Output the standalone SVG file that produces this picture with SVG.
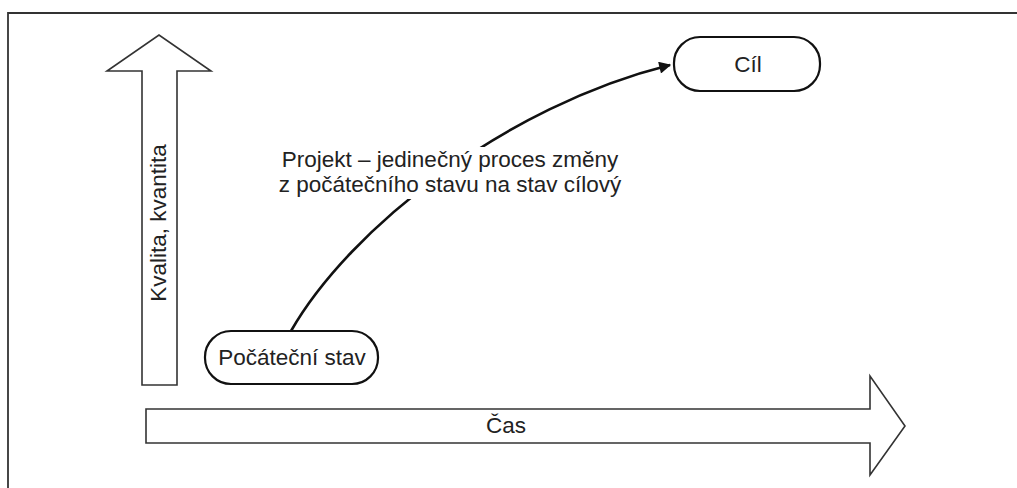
<svg xmlns="http://www.w3.org/2000/svg" width="1017" height="488" viewBox="0 0 1017 488">
<style>
.frame{fill:none;stroke:#333;stroke-width:1.8}
.bigarrow{fill:#fff;stroke:#333;stroke-width:1.6;stroke-linejoin:miter}
.node{fill:#fff;stroke:#111;stroke-width:2.2}
.t{font-family:"Liberation Sans",Arial,sans-serif;font-size:22.5px;fill:#222;text-anchor:middle}
.conn{fill:none;stroke:#111;stroke-width:2.6}
</style>
<defs>
<marker id="ah" viewBox="0 0 10 10" refX="9" refY="5" markerWidth="6" markerHeight="4.6" orient="auto" markerUnits="strokeWidth">
<path d="M0,0 L10,5 L0,10 z" fill="#111"/>
</marker>
</defs>
<rect width="1017" height="488" fill="#fff"/>
<g id="frame">
<path class="frame" d="M8,488 L8,13 L1017,13"/>
</g>
<g id="axis-y">
<polygon class="bigarrow" points="142,385 142,71 107,71 159,35 211,71 177,71 177,385"/>
<text class="t" transform="translate(166,223) rotate(-90)">Kvalita, kvantita</text>
</g>
<g id="axis-x">
<polygon class="bigarrow" points="146,409 870,409 870,376 905,426 870,475 870,443 146,443"/>
<text class="t" x="506" y="433">Čas</text>
</g>
<g id="connectors">
<path class="conn" d="M291,331 C350,228 505,106 670,65" marker-end="url(#ah)"/>
</g>
<g id="label">
<rect x="278" y="147" width="344" height="52" fill="#fff"/>
<text class="t" x="450" y="167">Projekt – jedinečný proces změny</text>
<text class="t" x="450" y="192">z počátečního stavu na stav cílový</text>
</g>
<g id="start">
<rect class="node" x="205" y="331" width="173" height="53" rx="26" ry="26"/>
<text class="t" x="292" y="365">Počáteční stav</text>
</g>
<g id="goal">
<rect class="node" x="674" y="37" width="146" height="54" rx="26" ry="26"/>
<text class="t" x="748" y="72">Cíl</text>
</g>
</svg>
